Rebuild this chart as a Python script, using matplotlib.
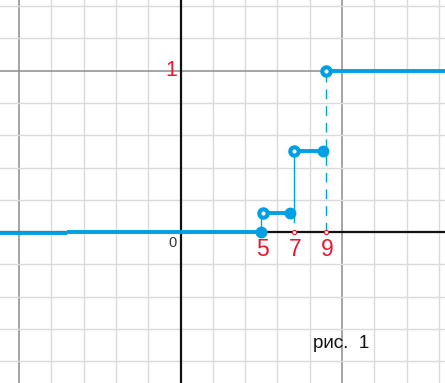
import matplotlib
matplotlib.use("Agg")
import matplotlib.pyplot as plt
import numpy as np

plt.rcParams['font.family'] = ['Liberation Sans', 'DejaVu Sans']

# step-function data
levels = [0.0, 0.12, 0.5, 1.0]          # values of the function
open_x = [5.1, 7.05, 9.0]               # open circles (start of each step)
closed_x = [5.0, 6.8, 8.85]             # filled circles (end of each step)
tick_vals = [5, 7, 9]
tick_labels = ["5", "7", "9"]

BLUE = '#00a0e4'
RED = '#ec1530'

fig = plt.figure(figsize=(4.45, 3.83), dpi=100)
ax = fig.add_axes([0, 0, 1, 1])
xmin, xmax = -11.18, 16.38
ymin, ymax = -0.934, 1.438
ax.set_xlim(xmin, xmax)
ax.set_ylim(ymin, ymax)
ax.axis('off')

# grid
for gx in np.arange(-12, 18, 2):
    major = (gx % 10 == 0) and gx != 0
    if gx == 0:
        continue
    ax.axvline(gx, color='#8c8c8c' if major else '#dadada', lw=1.1 if major else 1.0, zorder=0)
for gy in np.round(np.arange(-1.0, 1.6, 0.2), 2):
    if abs(gy) < 1e-9:
        continue
    major = abs(abs(gy) - 1.0) < 1e-9
    ax.axhline(gy, color='#8c8c8c' if major else '#dadada', lw=1.1 if major else 1.0, zorder=0)

# axes
ax.axvline(0, color='#111111', lw=1.6, zorder=1)
ax.axhline(0, color='#111111', lw=1.6, zorder=1)

# base line (y=0 to the left of the first jump)
ax.plot([xmin, -7.0], [-0.008, -0.008], color=BLUE, lw=2.8, solid_capstyle='butt', zorder=3)
ax.plot([-7.0, closed_x[0]], [levels[0], levels[0]], color=BLUE, lw=2.8, solid_capstyle='butt', zorder=3)

# step segments
seg_ends = closed_x[1:] + [xmax]
for i in range(3):
    ax.plot([open_x[i], seg_ends[i]], [levels[i + 1], levels[i + 1]], color=BLUE, lw=2.8,
            solid_capstyle='butt', zorder=3)

# vertical connectors
ax.plot([closed_x[0], closed_x[0]], [levels[0], levels[1]], color=BLUE, lw=1.0, zorder=2)
ax.plot([open_x[1], open_x[1]], [0.065, levels[2]], color=BLUE, lw=1.0, zorder=2)
ax.plot([open_x[2], open_x[2]], [0.0, levels[3]], color=BLUE, lw=1.0, ls=(0, (7, 5)), zorder=2)

# markers
ax.plot(closed_x, levels[:3], 'o', color=BLUE, ms=7.5, mew=1, zorder=5)
ax.plot(open_x, levels[1:], 'o', mfc='white', mec=BLUE, ms=6, mew=3.0, zorder=6)

# small red tick circles
ax.plot(tick_vals[1:], [0, 0], 'o', mfc='white', mec=RED, ms=3, mew=0.8, zorder=6)

# labels
for v, t in zip(tick_vals, tick_labels):
    ax.text(v + 0.1, -0.11, t, color=RED, fontsize=16.5, ha='center', va='center', zorder=7)
ax.text(-0.6, 1.0, "1", color=RED, fontsize=15.5, ha='center', va='center', zorder=7)
ax.text(-0.5, -0.065, "0", color='#333333', fontsize=10.5, ha='center', va='center', zorder=7)
ax.text(8.2, -0.72, "рис.  1", color='#111111', fontsize=13.5, ha='left', va='baseline', zorder=7)

fig.savefig("out.png", dpi=100)
